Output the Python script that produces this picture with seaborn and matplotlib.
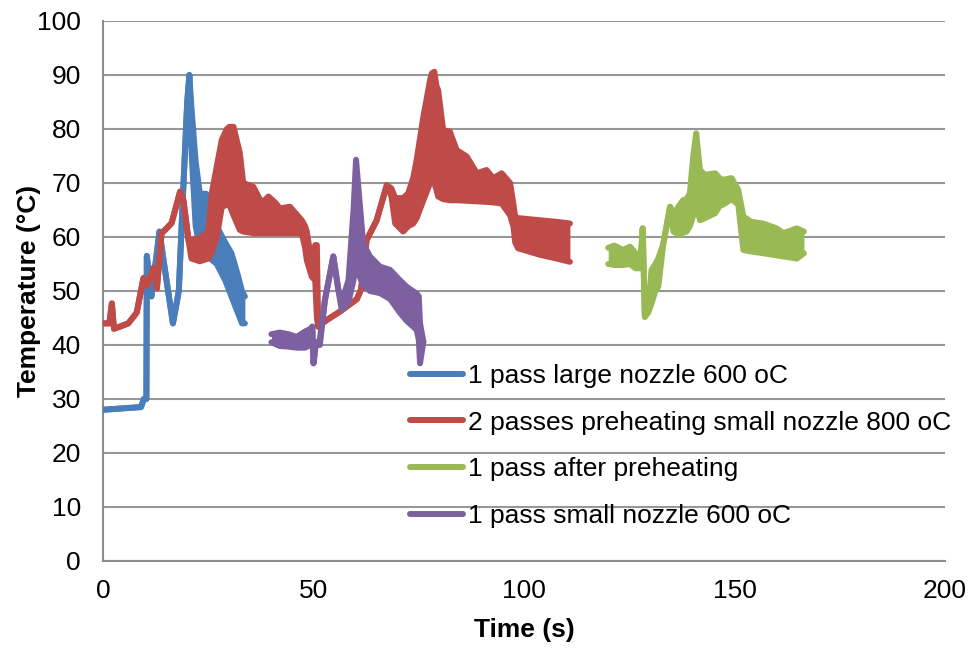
import matplotlib
matplotlib.use("Agg")
import matplotlib.pyplot as plt
import pandas as pd
import seaborn as sns

# Temperature traces: time (s), lower and upper edge of the oscillating signal (°C)
blue_t  = [0, 9.0, 9.7, 10.3, 10.4, 11.5, 13.4, 14.5, 16.6, 18.0, 19.0, 20.0, 20.5,
           21.0, 22.0, 23.0, 24.5, 25.5, 27.0, 29.0, 30.5, 32.0, 33.0, 33.7]
blue_lo = [28, 28.5, 30, 30, 56.5, 49, 61, 55, 44, 50, 68, 85, 90,
           76, 62, 58, 57, 56, 55, 52, 49, 46, 44, 44]
blue_hi = [28, 28.5, 30, 30, 56.5, 49, 61, 55, 44, 50, 68, 85, 90,
           84, 74, 68, 68, 66, 62, 59, 57, 53, 50, 49]

red_t  = [0, 1.5, 2.1, 2.6, 4, 6, 8, 9.6, 10.4, 12, 12.8, 13.9, 15.1, 16.3, 18.3, 19.1,
          20.3, 21.0, 23.0, 25.0, 25.8, 27.0, 28.2, 29.4, 30.0, 31.0, 32.5, 33.3, 35.7,
          37.7, 39.3, 41.0, 42.0, 44.4, 47.2, 48.0, 48.4, 49.6, 50.4, 50.8, 51.1, 53.1,
          56.3, 60.3, 61.3, 62.6, 65, 67.4, 68.5, 69.4, 71.3, 72.5, 73.7, 74.5, 76.1,
          77.7, 78.1, 78.7, 79.2, 79.6, 80.8, 82.4, 84.0, 86.4, 88.8, 91.1, 92.7, 94.7,
          96.7, 97.5, 97.9, 98.6, 103.8, 107.8, 110.9]
red_lo = [44, 44, 47.7, 43, 43.4, 44, 46, 52.4, 51, 54.3, 50.5, 60.7, 61.6, 62.6, 68.4, 66.8,
          59.4, 56, 55.5, 56, 57, 60, 65.5, 66, 66, 64, 61.3, 61, 60.7,
          60.7, 60.7, 60.7, 60.7, 60.7, 60.7, 58, 55.7, 52.6, 52, 45, 43.4, 44.6,
          46.2, 48.5, 50.3, 59.4, 63.1, 69.6, 67.5, 62.5, 61, 62, 62.5, 63.5, 66.8,
          70, 72.4, 70, 68.7, 67.5, 67, 66.8, 66.8, 66.7, 66.6, 66.5, 66.4, 66.2,
          64, 61.9, 59, 57.9, 56.7, 56, 55.4]
red_hi = [44, 44, 47.7, 43, 43.4, 44, 46, 52.4, 51, 54.3, 50.5, 60.7, 61.6, 62.6, 68.4, 66.8,
          59.4, 59.5, 59.8, 61, 68, 73, 78, 80, 80.4, 80.4, 75.5, 70, 69.3,
          66.3, 67.5, 66.3, 65.3, 65.6, 63.1, 62, 61, 55, 58.5, 58.5, 43.4, 44.6,
          46.2, 48.5, 50.3, 59.4, 63.1, 69.6, 69, 67.2, 67.2, 68.1, 71, 74.3, 82.3,
          89.1, 90.3, 90.6, 88, 87.2, 79.8, 79.5, 76.1, 74.9, 71.8, 72.4, 70.9, 71.8,
          70, 66, 63.8, 63.5, 63.1, 62.8, 62.5]

green_t  = [120.0, 121.5, 123.5, 125.2, 126.5, 127.6, 128.2, 128.7, 129.5, 130.3, 131.2,
            131.9, 133.1, 134.7, 135.5, 136.2, 137.0, 137.8, 138.6, 139.4, 140.2, 140.9,
            141.8, 143.0, 145.4, 146.6, 147.3, 149.3, 150.9, 152.1, 154.0, 156.8, 160.0,
            161.6, 164.8, 166.5]
green_lo = [55, 54.8, 54.8, 55, 54.2, 54.2, 61.6, 45.2, 46, 47.7, 50,
            50.8, 58.8, 65.6, 61, 60.7, 60.4, 60.8, 61, 62, 64, 66,
            63.1, 63.5, 64.4, 65.9, 66, 67, 66, 57.6, 57.3, 57, 56.6,
            56.4, 56, 57]
green_hi = [58, 58.4, 57.6, 58.2, 57, 55, 61.6, 45.2, 47, 53.9, 55,
            56, 58.8, 65.6, 64.5, 65, 66, 66.8, 67, 68.1, 75, 79.2,
            72.4, 71.5, 71.8, 70.8, 70.6, 70.9, 68.7, 63.8, 62.8, 62.5, 61.6,
            60.7, 61.6, 61]

purple_t  = [40.0, 42, 44, 46, 48, 49.3, 49.7, 50.0, 50.5, 51.5, 52.7, 54.7, 55.9, 56.7,
             58.3, 59.5, 60.1, 61.0, 61.8, 63.4, 65.8, 68.2, 70.5, 72.1, 74.5, 75.0,
             75.3, 76.1]
purple_lo = [40.5, 39.8, 39.7, 39.5, 39.5, 40, 43.4, 36.6, 40, 40, 48.3, 56.4, 50.2, 46.5,
             48, 52, 56, 52.6, 51, 50, 49.6, 48.5, 46, 44.5, 42.8, 41,
             36.6, 40.6]
purple_hi = [42, 42.3, 42, 41.5, 42.5, 43, 43.4, 36.6, 40, 41, 48.3, 56.4, 50.2, 48,
             52, 65, 74.3, 66, 58.8, 56.4, 54.5, 53.9, 52, 50.8, 49.5, 49,
             44, 40.6]

names = ["1 pass large nozzle 600 oC",
         "2 passes preheating small nozzle 800 oC",
         "1 pass after preheating",
         "1 pass small nozzle 600 oC"]
colors = ["#4A7EBB", "#BE4B48", "#98B954", "#7D60A0"]

x_ticks = [0, 50, 100, 150, 200]
y_ticks = [0, 10, 20, 30, 40, 50, 60, 70, 80, 90, 100]

sns.set_style("white")
plt.rcParams["font.family"] = ["Liberation Sans", "DejaVu Sans"]
plt.rcParams["text.color"] = "black"
plt.rcParams["axes.labelcolor"] = "black"

fig = plt.figure(figsize=(9.73, 6.48), dpi=100)
ax = fig.add_axes([0.1059, 0.1343, 0.8653, 0.8333])

series = [
    (blue_t, blue_lo, blue_hi),
    (red_t, red_lo, red_hi),
    (green_t, green_lo, green_hi),
    (purple_t, purple_lo, purple_hi),
]

LW = 4.3
line_kw = dict(lw=LW, solid_capstyle="round", solid_joinstyle="round")
handles = []
for k, ((t, lo, hi), name, col) in enumerate(zip(series, names, colors)):
    df = pd.DataFrame({"t": t, "lo": lo, "hi": hi})
    z = 3 + k
    ax.fill_between(df["t"], df["lo"], df["hi"], color=col, lw=0, zorder=z)
    sns.lineplot(data=df, x="t", y="lo", ax=ax, color=col, zorder=z,
                 sort=False, estimator=None, legend=False, **line_kw)
    sns.lineplot(data=df, x="t", y="hi", ax=ax, color=col, zorder=z,
                 sort=False, estimator=None, legend=False, **line_kw)
    handles.append(ax.lines[-1])

ax.set_xlim(0, 200)
ax.set_ylim(0, 100)
ax.set_xticks(x_ticks)
ax.set_yticks(y_ticks)
ax.tick_params(axis="both", length=0, labelsize=19, labelcolor="black")
ax.tick_params(axis="x", pad=13)
ax.tick_params(axis="y", pad=16)

ax.set_axisbelow(True)
ax.yaxis.grid(True, color="#979797", lw=1.5)
ax.xaxis.grid(False)
for side in ["top", "right"]:
    ax.spines[side].set_visible(False)
for side in ["left", "bottom"]:
    ax.spines[side].set_color("#8c8c8c")
    ax.spines[side].set_linewidth(1.5)

ax.set_xlabel("Time (s)", fontsize=19, fontweight="bold", color="black")
ax.set_ylabel("Temperature (°C)", fontsize=19, fontweight="bold", color="black")
ax.xaxis.set_label_coords(0.5, -0.105)
ax.yaxis.set_label_coords(-0.074, 0.5)

leg = fig.legend(handles, names, loc="center left",
                 bbox_to_anchor=(410 / 973, 1 - 446 / 648),
                 frameon=False, fontsize=19, handlelength=2.0,
                 handletextpad=0.2, labelspacing=0.86,
                 borderpad=0, borderaxespad=0, labelcolor="black")
for h in leg.legend_handles:
    h.set_linewidth(LW)
    h.set_solid_capstyle("round")

fig.savefig("out.png", dpi=100)
